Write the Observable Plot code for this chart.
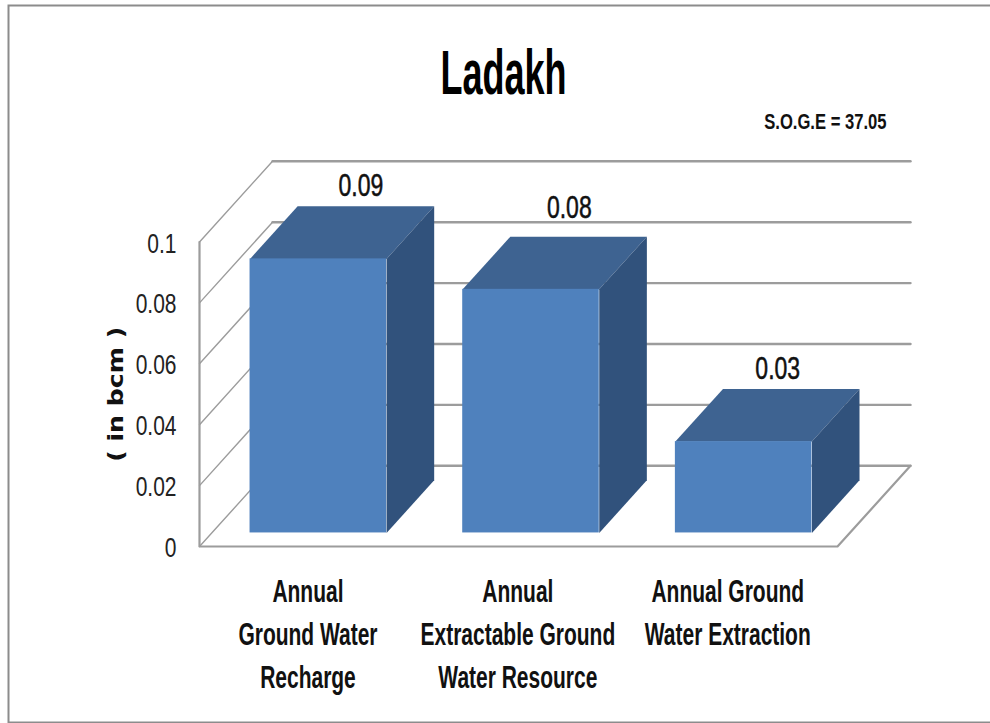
<!DOCTYPE html>
<html>
<head>
<meta charset="utf-8">
<script src="https://cdn.jsdelivr.net/npm/d3@7"></script>
<script src="https://cdn.jsdelivr.net/npm/@observablehq/plot@0.6"></script>
<style>html,body{margin:0;padding:0;background:#fff}svg{display:block}</style>
</head>
<body>
<div id="chart"></div>
<script>
const chartTitle = "Ladakh";
const note = "S.O.G.E = 37.05";
const yLabel = "( in bcm )";
const categories = ["Annual\nGround Water\nRecharge", "Annual\nExtractable Ground\nWater Resource", "Annual Ground\nWater Extraction"];
const values = [0.09, 0.08, 0.03];
const yTicks = [0, 0.02, 0.04, 0.06, 0.08, 0.1];
const depthX = 0.3433, depthY = 0.0265;
const barStart = 0.168, barEnd = 0.82, barLeft = 0.18, barWidth = 0.642;
const P = (x, v, d) => ({x: x + depthX * d, y: v + depthY * d});
const font = "'Liberation Sans Narrow','Liberation Sans',sans-serif";
const gridColor = "#9c9c9c";

const backLines = yTicks.flatMap(t => [{...P(0, t, 1), k: t}, {...P(3, t, 1), k: t}]);
const sideLines = yTicks.flatMap(t => [{...P(0, t, 0), k: t}, {...P(0, t, 1), k: t}]);
const axisLines = [P(0, 0.1, 0), P(0, 0, 0), P(3, 0, 0), P(3, 0, 1)];

const bars = values.map((v, i) => ({v, l: i + barLeft, r: i + barLeft + barWidth, i}));
const topFace = bars.flatMap(b => [P(b.l, b.v, barStart), P(b.r, b.v, barStart), P(b.r, b.v, barEnd), P(b.l, b.v, barEnd)].map(p => ({...p, i: b.i})));
const sideFace = bars.flatMap(b => [P(b.r, 0, barStart), P(b.r, b.v, barStart), P(b.r, b.v, barEnd), P(b.r, 0, barEnd)].map(p => ({...p, i: b.i})));
const frontFace = bars.map(b => ({x1: P(b.l, 0, barStart).x, x2: P(b.r, 0, barStart).x, y1: P(b.l, 0, barStart).y, y2: P(b.l, b.v, barStart).y}));

const plot = Plot.plot({
  width: 990, height: 723,
  marginLeft: 199, marginRight: 153, marginTop: 241.5, marginBottom: 177,
  x: {domain: [0, 3], axis: null},
  y: {domain: [0, 0.1], axis: null},
  style: {background: "#fff", overflow: "hidden"},
  marks: [
    Plot.frame({stroke: "#8c8c8c", strokeWidth: 2, insetLeft: -191, insetTop: -236.5, insetBottom: -176, insetRight: -170}),
    Plot.line(backLines, {x: "x", y: "y", z: "k", stroke: gridColor, strokeWidth: 2.4}),
    Plot.line(sideLines, {x: "x", y: "y", z: "k", stroke: gridColor, strokeWidth: 1.4}),
    Plot.line(axisLines, {x: "x", y: "y", stroke: gridColor, strokeWidth: 2.2}),
    Plot.line(topFace, {x: "x", y: "y", z: "i", fill: "#3e6391", stroke: "none"}),
    Plot.line(sideFace, {x: "x", y: "y", z: "i", fill: "#31527c", stroke: "none"}),
    Plot.rect(frontFace, {x1: "x1", x2: "x2", y1: "y1", y2: "y2", fill: "#4f81bd"}),
    Plot.axisY({ticks: yTicks, tickSize: 0, tickPadding: 23, dy: 1.5, tickFormat: d => String(d), fontSize: 21, fontFamily: font, fill: "#222", className: "sy135", label: null}),
    ...values.map((val, i) => Plot.text([val], {x: () => i * 0.98 + 0.553 + depthX * 0.6, y: v => v + depthY * barEnd, text: v => v.toFixed(2), dy: i === 1 ? -29 : -20, fontSize: 23, fontFamily: font, fill: "#111", stroke: "#111", strokeWidth: 0.4, className: "sy135"})),
    Plot.text(categories, {x: (c, i) => i * 0.987 + 0.51, y: () => 0, text: d => d, lineAnchor: "top", dy: 25, lineHeight: 1.41, fontSize: 21, fontWeight: "bold", fontFamily: font, fill: "#111", className: "sy145"}),
    Plot.text([chartTitle], {frameAnchor: "top", dx: -15, dy: -167.5, fontSize: 36, fontWeight: "bold", fontFamily: font, fill: "#000", textAnchor: "middle", lineAnchor: "middle", className: "sy173"}),
    Plot.text([note], {frameAnchor: "top-right", dx: 49, dy: -120, fontSize: 16.6, fontWeight: "bold", fontFamily: font, fill: "#111", textAnchor: "end", lineAnchor: "middle", className: "sy135"}),
    Plot.text([yLabel], {frameAnchor: "left", dx: -83, rotate: -90, fontSize: 21, fontWeight: "bold", fontFamily: "'DejaVu Sans',sans-serif", fill: "#111", textAnchor: "middle", className: "wide"})
  ]
});
const addScale = (sel, s) => plot.querySelectorAll(sel + " text").forEach(t => t.setAttribute("transform", (t.getAttribute("transform") || "") + ` scale(${s})`));
addScale(".sy135", "1,1.35");
addScale(".sy145", "1,1.45");
addScale(".sy173", "1,1.73");
addScale(".wide", "1.2,1");
document.getElementById("chart").appendChild(plot);
</script>
</body>
</html>
